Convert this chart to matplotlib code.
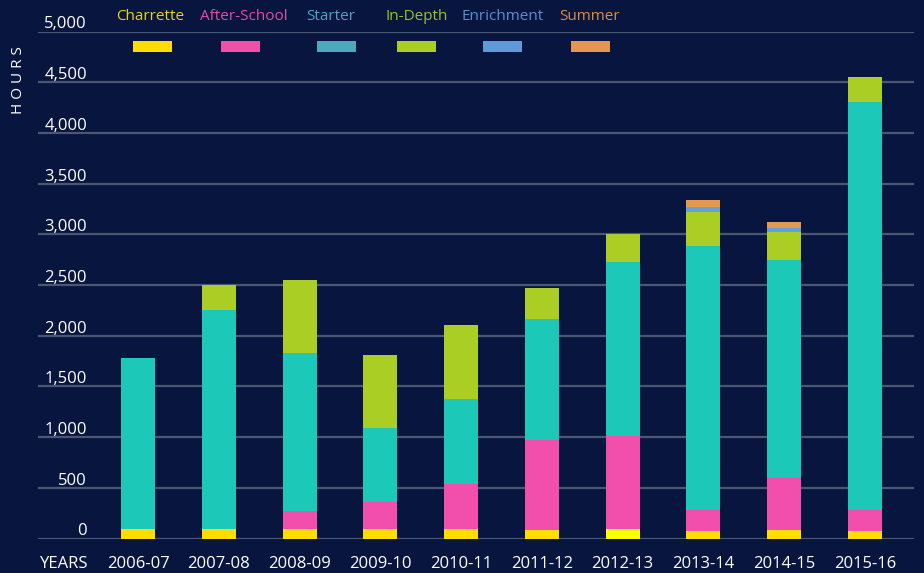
import numpy as np
import matplotlib.pyplot as plt
from matplotlib.patches import Rectangle
from matplotlib.transforms import blended_transform_factory

# data (hours per program)
years = ['2006-07', '2007-08', '2008-09', '2009-10', '2010-11',
         '2011-12', '2012-13', '2013-14', '2014-15', '2015-16']
charrette = [90, 90, 90, 90, 90, 80, 90, 70, 80, 70]
after_school = [0, 0, 180, 270, 445, 890, 925, 210, 515, 210]
starter = [1686, 2160, 1557, 725, 839, 1191, 1708, 2600, 2155, 4021]
in_depth = [0, 247, 720, 720, 730, 306, 276, 335, 277, 246]
enrichment = [0, 0, 0, 0, 0, 0, 0, 59, 39, 0]
summer = [0, 0, 0, 0, 0, 0, 0, 60, 53, 0]
yticks = list(range(0, 5001, 500))

series_names = ['Charrette', 'After-School', 'Starter', 'In-Depth', 'Enrichment', 'Summer']
series = [charrette, after_school, starter, in_depth, enrichment, summer]
bar_colors = ['#ffdd00', '#f24fac', '#1cc8b8', '#aace24', '#64a0dc', '#e29a50']
label_colors = ['#e8d21c', '#e44ca0', '#4aa6be', '#9cc02a', '#5a90d0', '#d88c48']
patch_colors = ['#ffdd00', '#f24fa8', '#4ea8bc', '#aace24', '#5e9ad8', '#e2964e']

bg = '#08163f'
plt.rcParams['font.family'] = ['Open Sans', 'DejaVu Sans']

W, H = 924, 573
fig = plt.figure(figsize=(W / 100, H / 100), dpi=100, facecolor=bg)
ax = fig.add_axes([38 / W, (H - 538.5) / H, 876 / W, 507 / H], facecolor=bg)

x = np.arange(len(years))
bottom = np.zeros(len(years))
for name, vals, col in zip(series_names, series, bar_colors):
    cols = col
    if name == 'Charrette':
        cols = [col] * len(years)
        cols[6] = '#ffff00'
    ax.bar(x, vals, width=0.42, bottom=bottom, color=cols, zorder=3, linewidth=0)
    bottom += np.array(vals)

sp = 80.78
ax.set_xlim(-100 / sp, 776 / sp)
ax.set_ylim(0, 5000)
for t in yticks:
    ax.axhline(t, color='#4b5675', lw=1.6, zorder=1)
    ax.text(-51 / sp, t + 30, f'{t:,}', ha='right', va='baseline',
            color='white', fontsize=12)

for s in ax.spines.values():
    s.set_visible(False)
ax.set_xticks([])
ax.set_yticks([])

trans = blended_transform_factory(ax.transData, ax.transAxes)
for i, yr in enumerate(years):
    ax.text(i, -25 / 507, yr, ha='center', va='center', color='white',
            fontsize=12, transform=trans)
ax.text(-98 / sp, -25 / 507, 'YEARS', ha='left', va='center', color='white',
        fontsize=12, transform=trans)

fig.text(18 / W, 1 - 80 / H, 'H O U R S', rotation=90, ha='center', va='center',
         color='white', fontsize=11)

# legend
text_x = [150, 244, 331, 417, 503, 590]
patch_x = [152, 240, 336, 416, 502, 590]
for name, tx, px, lc, pc in zip(series_names, text_x, patch_x, label_colors, patch_colors):
    fig.text(tx / W, 1 - 17 / H, name, ha='center', va='center', color=lc, fontsize=11)
    fig.add_artist(Rectangle(((px - 19.5) / W, 1 - 52 / H), 39 / W, 11 / H,
                             transform=fig.transFigure, color=pc, lw=0))

fig.savefig('out.png', dpi=100, facecolor=bg)
